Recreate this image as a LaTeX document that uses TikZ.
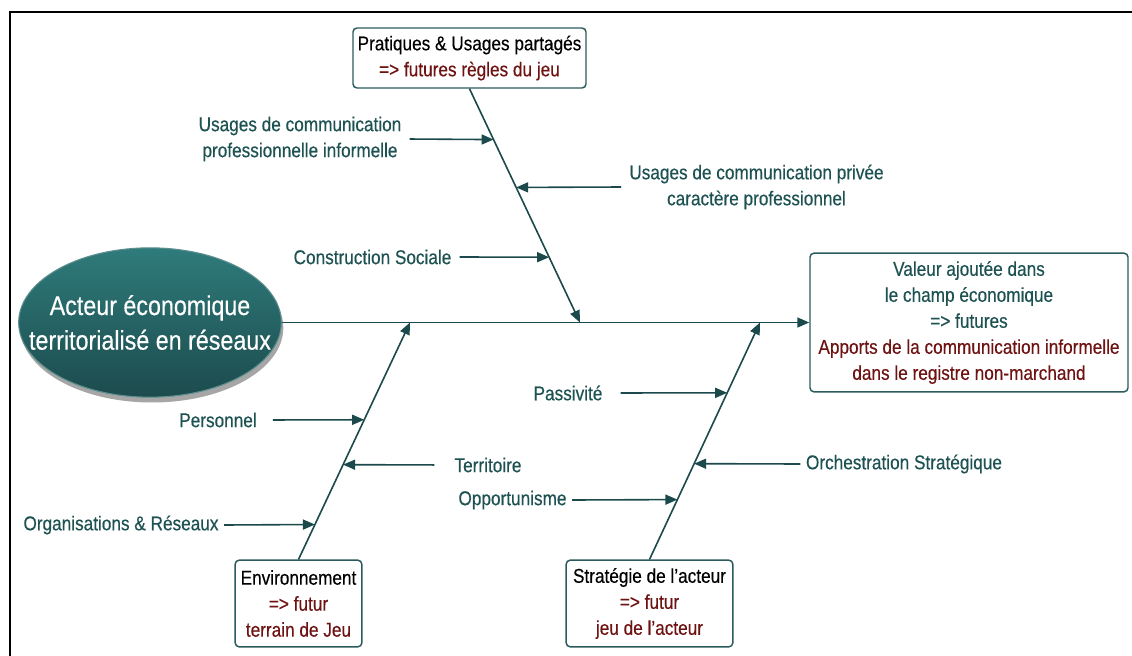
\documentclass[tikz,border=0pt]{standalone}
\usepackage{fontspec}
\setmainfont[FakeStretch=0.86,FakeBold=0.35]{Liberation Sans}
\usetikzlibrary{arrows.meta,shapes.geometric,shadows}
\definecolor{tealtxt}{HTML}{1E5252}
\definecolor{redtxt}{HTML}{6E1212}
\definecolor{linec}{HTML}{1C4A4C}
\definecolor{boxc}{HTML}{2B5C5D}
\definecolor{ellTop}{HTML}{2F7B7B}
\definecolor{ellBot}{HTML}{1C4B4D}
\definecolor{ellEdge}{HTML}{5E8F8F}
\begin{document}
\begin{tikzpicture}[x=0.75pt,y=-0.75pt,
  lbl/.style={font=\fontsize{15}{19.5}\selectfont, text=tealtxt, align=center, inner sep=4pt},
  box/.style={draw=boxc, line width=1.1pt, rounded corners=3pt, align=center,
              font=\fontsize{15}{19.5}\selectfont, inner sep=0pt, fill=white},
  arr/.style={draw=linec, line width=1.2pt, -{Triangle[length=9pt,width=7.5pt]}},
  frame/.style={draw=black, line width=2.2pt}
]
\useasboundingbox (0,0) rectangle (1132,656);
\fill[white] (0,0) rectangle (1132,656);
\draw[frame] (10,660) -- (10,12) -- (1136,12);

% main nodes
\node[ellipse, minimum width=197pt, minimum height=112pt,
      top color=ellTop, bottom color=ellBot, draw=ellEdge, line width=0.8pt,
      drop shadow={shadow xshift=1.5pt, shadow yshift=-4pt, opacity=0.35, fill=black},
      inner sep=0pt,
      label={[text=white, font=\fontsize{20.3}{26}\selectfont, align=center]center:Acteur économique\\territorialisé en réseaux}]
  (act) at (150,322.5) {};

\node[box, minimum width=238.5pt, minimum height=104pt, text=tealtxt]
  (val) at (969,322.5) {Valeur ajoutée dans\\le champ économique\\=> futures\\
  \textcolor{redtxt}{Apports de la communication informelle}\\
  \textcolor{redtxt}{dans le registre non-marchand}};

\node[box, minimum width=174.75pt, minimum height=45pt]
  (prat) at (469.5,58) {Pratiques \& Usages partagés\\\textcolor{redtxt}{=> futures règles du jeu}};

\node[box, minimum width=95pt, minimum height=65pt]
  (env) at (298.5,603.5) {Environnement\\\textcolor{redtxt}{=> futur}\\\textcolor{redtxt}{terrain de Jeu}};

\node[box, minimum width=125pt, minimum height=65pt]
  (strat) at (649.5,603.5) {Stratégie de l’acteur\\\textcolor{redtxt}{=> futur}\\\textcolor{redtxt}{jeu de l’acteur}};

% spine
\coordinate (s1) at (580,322.5);
\coordinate (s2) at (410,322.5);
\coordinate (s3) at (760,322.5);
\draw[arr] (act.east) -- (val.west);

% bones
\draw[arr] (prat.south) -- (s1);
\draw[arr] (env.north) -- (s2);
\draw[arr] (strat.north) -- (s3);

\path (prat.south) -- (s1)
  coordinate[pos=0.2175] (b1)
  coordinate[pos=0.4222] (b2)
  coordinate[pos=0.7207] (b3);
\path (env.north) -- (s2)
  coordinate[pos=0.5895] (b4)
  coordinate[pos=0.4] (b5)
  coordinate[pos=0.1474] (b6);
\path (strat.north) -- (s3)
  coordinate[pos=0.7032] (b7)
  coordinate[pos=0.4042] (b8)
  coordinate[pos=0.2526] (b9);

% labels
\node[lbl] (L1) at (300,139) {Usages de communication\\professionnelle informelle};
\node[lbl] (L2) at (756.5,187) {Usages de communication privée\\caractère professionnel};
\node[lbl] (L3) at (372.5,257) {Construction Sociale};
\node[lbl] (L4) at (218,420) {Personnel};
\node[lbl] (L5) at (488,465) {Territoire};
\node[lbl] (L6) at (121,525) {Organisations \& Réseaux};
\node[lbl] (L7) at (568,393) {Passivité};
\node[lbl] (L8) at (904,464) {Orchestration Stratégique};
\node[lbl] (L9) at (512.5,500) {Opportunisme};

% side arrows
\draw[arr, shorten <=2pt] (L1.east) -- (b1);
\draw[arr, shorten <=2pt] (L2.west) -- (b2);
\draw[arr, shorten <=2pt] (L3.east) -- (b3);
\draw[arr, shorten <=8pt] (L4.east) -- (b4);
\draw[arr, shorten <=11pt] (L5.west) -- (b5);
\draw[arr] (L6.east) -- (b6);
\draw[arr, shorten <=9.5pt] (L7.east) -- (b7);
\draw[arr] (L8.west) -- (b8);
\draw[arr] (L9.east) -- (b9);
\end{tikzpicture}
\end{document}
